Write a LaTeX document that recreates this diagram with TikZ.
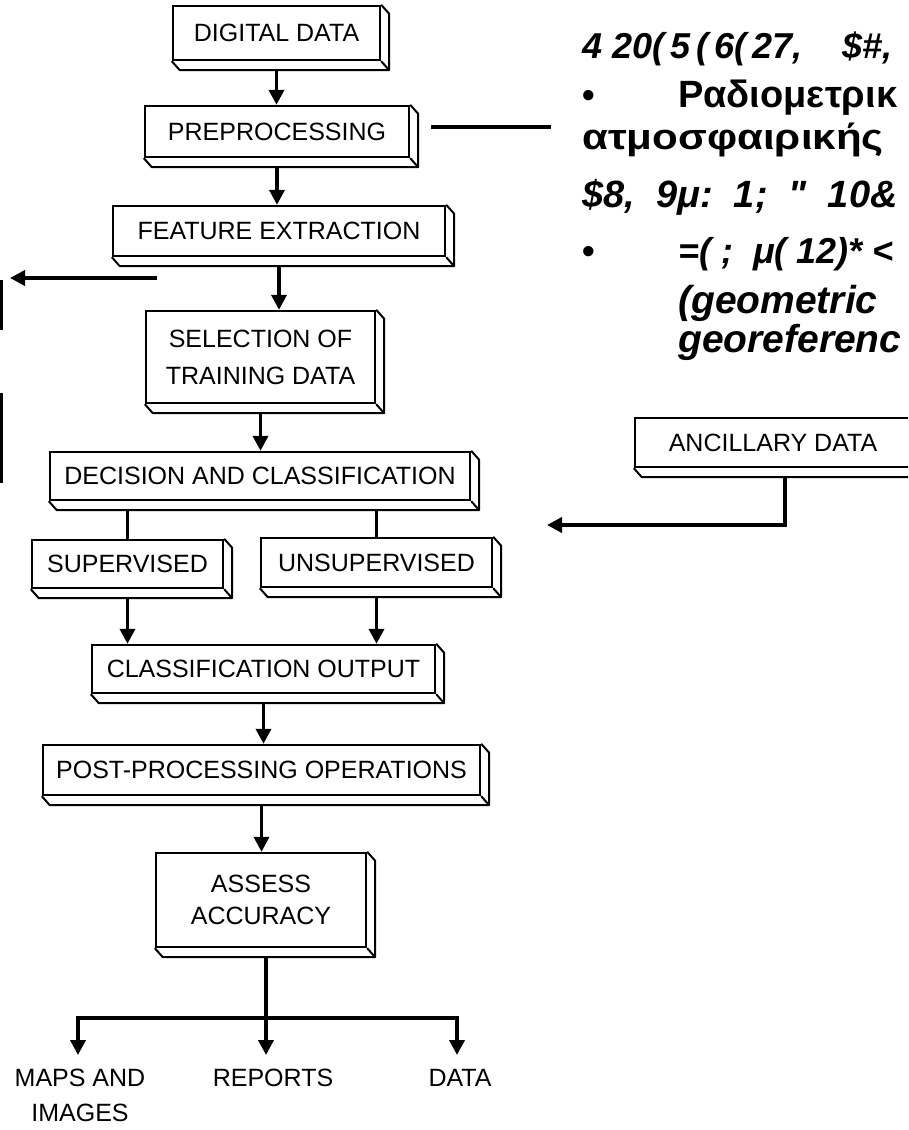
\documentclass[tikz,border=0pt]{standalone}
\usepackage{fontspec}
\usepackage{graphicx}
\setmainfont{Liberation Sans}
\newfontfamily\rawfont{Liberation Sans}
\usetikzlibrary{arrows.meta,calc}
\begin{document}
\begin{tikzpicture}[x=1pt,y=-1pt,
  box/.style={draw, line width=2.4pt, inner sep=0pt, align=center, font=\fontsize{25}{37}\selectfont},
  ext/.style={line width=2pt, line join=round},
  arr/.style={line width=3.6pt, -{Triangle[length=15pt,width=15pt]}},
  lin/.style={line width=3.6pt},
  lbl/.style={inner sep=0pt, align=center, font=\fontsize{25}{35}\selectfont},
  rt/.style={anchor=base west, inner sep=0pt, font=\fontsize{36}{40}\selectfont\bfseries\itshape},
  rg/.style={anchor=base west, inner sep=0pt, font=\fontsize{36}{40}\selectfont\bfseries}]
\useasboundingbox (0,0) rectangle (908,1130);
\begin{scope}
\clip (0,0) rectangle (908,1130);
% boxes
\node[box, minimum width=207pt, minimum height=54pt] (dd) at (276.5,33) {DIGITAL DATA};
\node[box, minimum width=264pt, minimum height=51pt] (pre) at (277,131.5) {PREPROCESSING};
\node[box, minimum width=332pt, minimum height=50pt] (fe) at (279,231) {FEATURE EXTRACTION};
\node[box, minimum width=229pt, minimum height=92pt] (sel) at (260.5,357) {SELECTION OF\\TRAINING DATA};
\node[box, minimum width=420pt, minimum height=48pt] (dec) at (260,476) {DECISION AND CLASSIFICATION};
\node[box, minimum width=191pt, minimum height=48pt] (sup) at (127.5,564) {SUPERVISED};
\node[box, minimum width=231pt, minimum height=49pt] (unsup) at (376.5,562.5) {UNSUPERVISED};
\node[box, minimum width=276pt, minimum height=49pt] (anc) at (773,442.5) {ANCILLARY DATA};
\node[box, minimum width=343pt, minimum height=48pt] (co) at (263.5,669) {CLASSIFICATION OUTPUT};
\node[box, minimum width=437pt, minimum height=50pt] (pp) at (261.5,770) {POST-PROCESSING OPERATIONS};
\node[box, minimum width=210pt, minimum height=94pt, font=\fontsize{25}{32}\selectfont] (aa) at (261,900) {ASSESS\\ACCURACY};
% extrusions
\foreach \n in {dd,pre,fe,sel,dec,sup,unsup,anc,co,pp,aa}{
  \draw[ext] (\n.south west) -- ++(8,9) -- ($(\n.south east)+(8,9)$) -- ($(\n.north east)+(8,9)$) -- (\n.north east);
  \draw[ext] (\n.south east) -- ++(8,9);
}
% connectors
\draw[arr, shorten <=9pt] (dd.south) -- (dd.south |- pre.north);
\draw[arr, shorten <=9pt] (pre.south) -- (pre.south |- fe.north);
\draw[arr, shorten <=9pt] (fe.south) -- (fe.south |- sel.north);
\draw[arr, shorten <=9pt] (sel.south) -- (sel.south |- dec.north);
\draw[lin, shorten <=9pt] (dec.south -| sup.north) -- (sup.north);
\draw[lin, shorten <=9pt] (dec.south -| unsup.north) -- (unsup.north);
\draw[arr, shorten <=9pt] (sup.south) -- (sup.south |- co.north);
\draw[arr, shorten <=9pt] (unsup.south) -- (unsup.south |- co.north);
\draw[arr, shorten <=9pt] (co.south) -- (co.south |- pp.north);
\draw[arr, shorten <=9pt] (pp.south) -- (pp.south |- aa.north);
\coordinate (br) at (266,1018);
\coordinate (m1) at (78,1055);
\coordinate (r1) at (266,1055);
\coordinate (d1) at (457,1055);
\draw[lin, shorten <=9pt] (aa.south -| br) -- (br);
\draw[arr] (br) -| (m1);
\draw[arr] (br) -- (r1);
\draw[arr] (br) -| (d1);
% side connectors
\coordinate (la1) at (157,278);
\coordinate (la2) at (10,278);
\draw[arr] (la1) -- (la2);
\coordinate (pe) at (551,127);
\draw[lin] ($(pre.east)+(21,-4.5)$) -- (pe);
\coordinate (ae) at (547,525);
\draw[arr, shorten <=9pt] ($(anc.south)+(12,0)$) |- (ae);
% left fragments
\draw[line width=3.5pt] (1.5,280) -- (1.5,330);
\draw[line width=3.5pt] (1.5,393) -- (1.5,483);
% output labels
\node[lbl, anchor=north] (maps) at (80,1069) {MAPS AND\\IMAGES};
\node[lbl, anchor=north] (rep) at (273,1069) {REPORTS};
\node[lbl, anchor=north] (dat) at (460,1069) {DATA};
% right text
\node[rt] (t1) at (582,58) {4 20(\,5\,(\,6(\,27,\hspace{40pt}\$\#,};
\node[rg] (b1) at (582,107) {•};
\node[rg, font=\fontsize{38}{40}\selectfont\bfseries] (t2) at (678,107) {Ραδιομετρικ};
\node[rg] (t3) at (582,149) {\scalebox{1.17}[1]{ατμοσφαιρικής}};
\node[rt, font=\fontsize{38}{40}\selectfont\bfseries\itshape] (t4) at (582,207) {\$8,\ \ 9μ:\ \ 1;\ \ {\rawfont\bfseries\itshape "}\ \ 10\&};
\node[rg] (b2) at (582,263) {•};
\node[rt] (t5) at (678,263) {=( ;\ \ μ( 12)* <};
\node[rt, font=\fontsize{39}{40}\selectfont\bfseries\itshape] (t6) at (678,313) {(geometric};
\node[rt, font=\fontsize{39}{40}\selectfont\bfseries\itshape] (t7) at (678,352) {georeferenc};
\end{scope}
\end{tikzpicture}
\end{document}
